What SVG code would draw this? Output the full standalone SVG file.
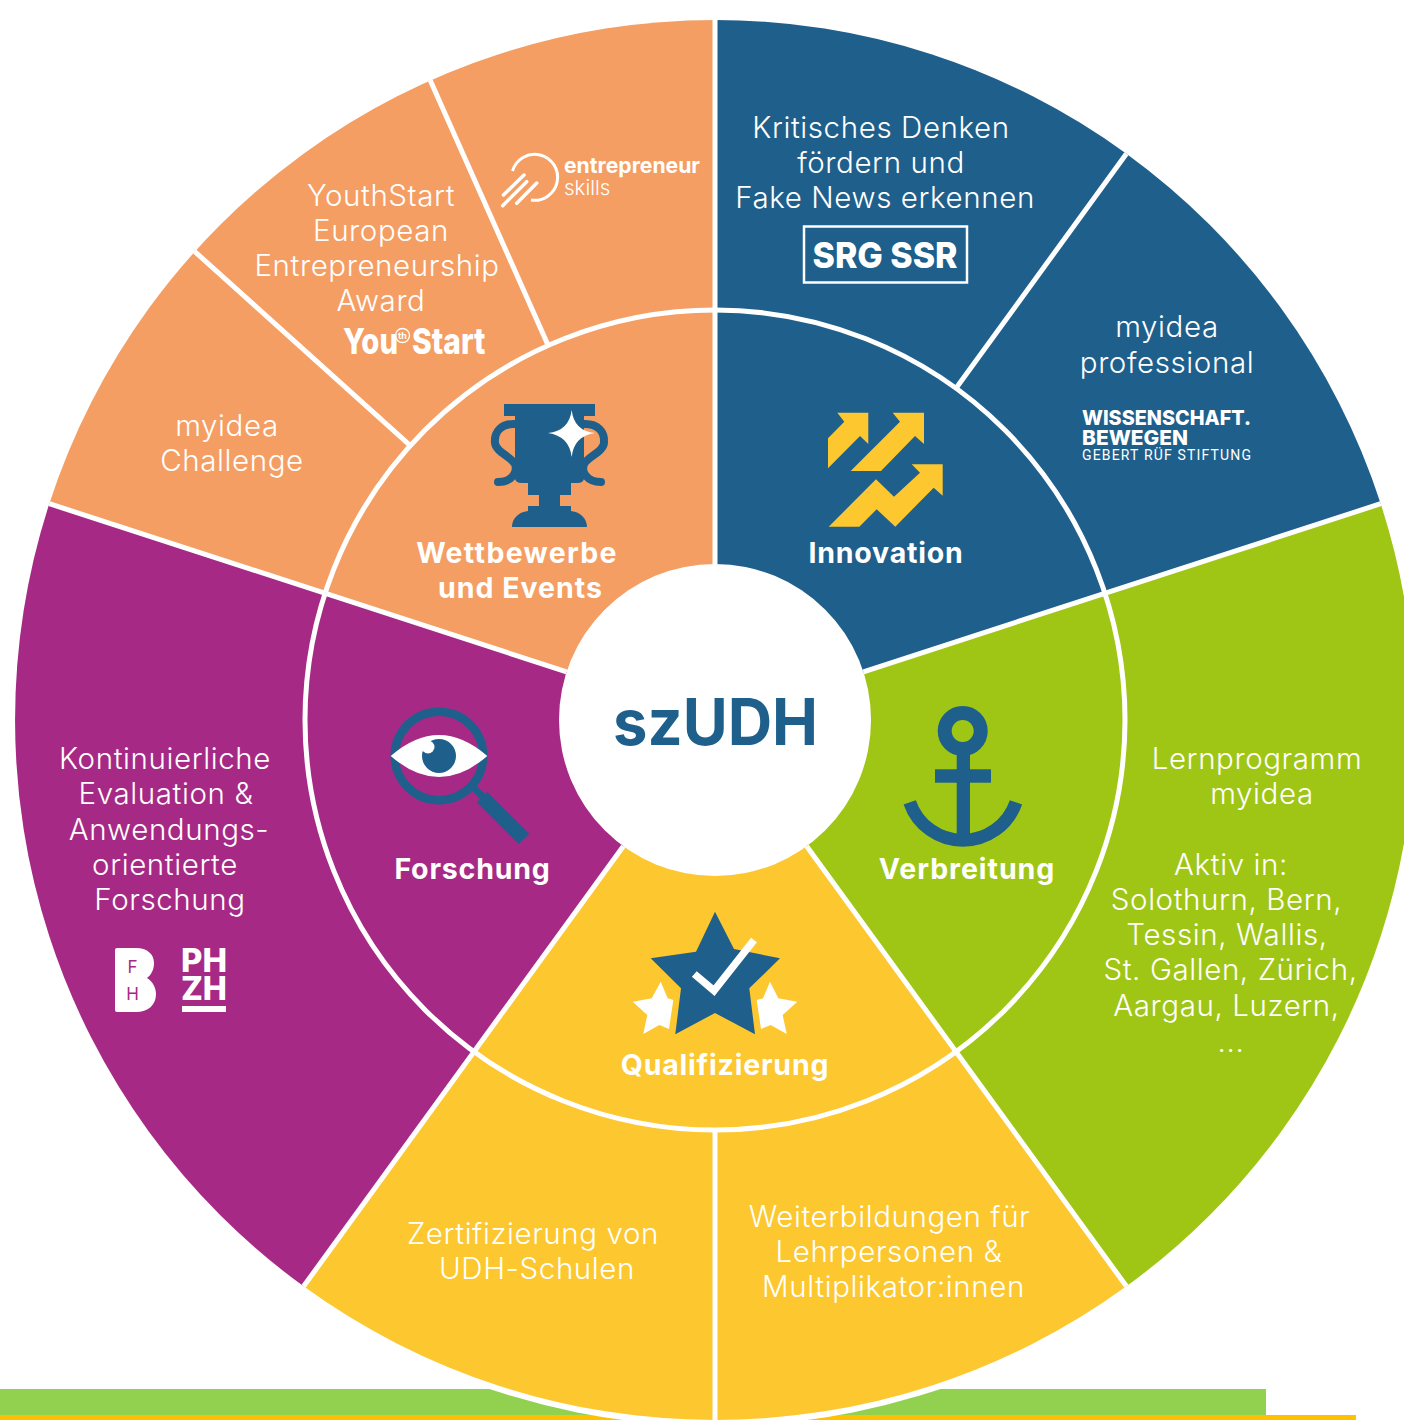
<svg xmlns="http://www.w3.org/2000/svg" width="1404" height="1420" viewBox="0 0 1404 1420">
<style>
text{font-family:Inter,"Noto Sans","Liberation Sans",sans-serif;fill:#fff;text-anchor:middle}
.t{font-size:29.5px;font-weight:300;letter-spacing:.6px}
.b{font-size:28.5px;font-weight:700;letter-spacing:.8px}
.l{font-weight:800;text-anchor:start}
.sep{stroke:#fff;stroke-width:5;fill:none}
.ic{fill:#1f5f8b}
.is{fill:none;stroke:#1f5f8b}
</style>
<rect width="1404" height="1420" fill="#fff"/>
<rect id="bar-green" x="0" y="1389" width="1266" height="26" fill="#92d14f"/>
<rect id="bar-orange" x="0" y="1415" width="1356" height="5" fill="#ffc000"/>
<circle id="rim" cx="715" cy="720" r="706" fill="#fff"/>

<g id="sector-innovation">
<path d="M715 720V20A700 700 0 0 1 1380.7 503.7Z" fill="#1f5f8b"/>
<text class="t"><tspan x="881" y="138">Kritisches Denken</tspan><tspan x="881" y="173">fördern und</tspan><tspan x="885" y="208">Fake News erkennen</tspan></text>
<rect x="804" y="226.500" width="163" height="56" fill="none" stroke="#fff" stroke-width="2.500"/>
<text x="885" y="268" style="font-size:36px;font-weight:800" textLength="145" lengthAdjust="spacingAndGlyphs">SRG SSR</text>
<text class="t"><tspan x="1167" y="337">myidea</tspan><tspan x="1167" y="372.500">professional</tspan></text>
<text class="l" x="1082" y="425" style="font-size:20.500px" textLength="169" lengthAdjust="spacingAndGlyphs">WISSENSCHAFT.</text>
<text class="l" x="1082" y="445" style="font-size:20.500px" textLength="106" lengthAdjust="spacingAndGlyphs">BEWEGEN</text>
<text x="1082" y="460" style="font-family:Roboto,Inter,sans-serif;font-size:14px;font-weight:400;text-anchor:start" textLength="169">GEBERT RÜF STIFTUNG</text>
<g id="icon-innovation" fill="#fdc72f">
<polygon points="837.300,412.700 868.300,412.700 868.300,444 860,436 828,468.300 828,438.300 844.300,421.700"/>
<polygon points="892.700,412.700 924,412.700 924,444 915,436 881,471 850.700,471 900,421.700"/>
<polygon points="911.700,464.300 942.700,464.300 942.700,495.700 933.700,487.700 895.300,526.700 876.700,509.300 859.300,526.700 828.700,526.700 876,479.300 894,496.700 920,472.700"/>
</g>
<text class="b" x="886" y="563">Innovation</text>
</g>

<g id="sector-verbreitung">
<path d="M715 720L1380.7 503.700A700 700 0 0 1 1126.400 1286.300Z" fill="#9fc615"/>
<text class="t"><tspan x="1257" y="769">Lernprogramm</tspan><tspan x="1262" y="804">myidea</tspan><tspan x="1231" y="875">Aktiv in:</tspan><tspan x="1226.500" y="910">Solothurn, Bern,</tspan><tspan x="1227" y="945">Tessin, Wallis,</tspan><tspan x="1230.500" y="980">St. Gallen, Zürich,</tspan><tspan x="1226.500" y="1015.500">Aargau, Luzern,</tspan><tspan x="1231" y="1052">...</tspan></text>
<g id="icon-anchor">
<circle class="is" cx="962.700" cy="731" r="18" stroke-width="14"/>
<rect class="ic" x="956.700" y="752" width="13.300" height="88"/>
<rect class="ic" x="935" y="769.300" width="56" height="13.400"/>
<path class="is" d="M909.700 802.300A56.200 56.200 0 0 0 1016 802.300" stroke-width="13"/>
</g>
<text class="b" x="967" y="879" style="letter-spacing:.95px">Verbreitung</text>
</g>

<g id="sector-qualifizierung">
<path d="M715 720L1126.400 1286.300A700 700 0 0 1 303.600 1286.300Z" fill="#fdc72f"/>
<text class="t"><tspan x="533" y="1244">Zertifizierung von</tspan><tspan x="537" y="1279">UDH-Schulen</tspan></text>
<text class="t"><tspan x="889.500" y="1227">Weiterbildungen für</tspan><tspan x="889" y="1262">Lehrpersonen &amp;</tspan><tspan x="893.500" y="1297">Multiplikator:innen</tspan></text>
<g id="icon-stars">
<polygon class="ic" points="715,911.700 734,949 780,958.300 749.300,988.300 755,1034.300 715,1013 675.300,1034.300 681,988.300 650.700,958.300 696,951.700"/>
<polyline points="694.300,974 714,990.700 754,940" fill="none" stroke="#fff" stroke-width="7.500"/>
<polygon fill="#fff" points="660.700,981.700 667.700,998.300 673.300,1000 669,1029 659.300,1025 643.300,1034 647.300,1015 632.700,1001.700 651.700,998.300"/>
<polygon fill="#fff" points="770,981.700 763,998.300 756.700,1000 761,1029 770.700,1025 786.700,1034 782.700,1015 797.300,1001.700 778.300,998.300"/>
</g>
<text class="b" x="725" y="1075">Qualifizierung</text>
</g>

<g id="sector-forschung">
<path d="M715 720L303.600 1286.300A700 700 0 0 1 49.300 503.700Z" fill="#a62a85"/>
<text class="t"><tspan x="165" y="769">Kontinuierliche</tspan><tspan x="166" y="804">Evaluation &amp;</tspan><tspan x="169" y="839.500">Anwendungs-</tspan><tspan x="165" y="874.500">orientierte</tspan><tspan x="170" y="910">Forschung</tspan></text>
<g id="logo-fh">
<path fill="#fff" d="M115 950q0-2 2-2H136C147 948 154 954 154 963 154 970 151 975 147 978 152 981 156 987 156 994 156 1005 148 1012 136 1012H117q-2 0-2-2Z"/>
<text x="132.500" y="973" style="font-size:17px;font-weight:400;fill:#a62a85">F</text>
<text x="132.500" y="1000" style="font-size:17px;font-weight:400;fill:#a62a85">H</text>
</g>
<g id="logo-phzh">
<text class="l" x="181" y="972" style="font-size:32px" textLength="46" lengthAdjust="spacingAndGlyphs">PH</text>
<text class="l" x="181" y="1000" style="font-size:32px" textLength="46" lengthAdjust="spacingAndGlyphs">ZH</text>
<rect x="182" y="1006" width="44" height="6" fill="#fff"/>
</g>
<g id="icon-eye">
<circle class="is" cx="439" cy="756" r="44.200" stroke-width="8.500"/>
<line class="is" x1="474" y1="788" x2="486" y2="800" stroke-width="7"/>
<line class="is" x1="482" y1="797" x2="524" y2="839" stroke-width="15"/>
<path fill="#fff" d="M390.700 756Q439 714 487.300 756Q439 798 390.700 756Z"/>
<circle class="ic" cx="439" cy="756" r="17"/>
<circle cx="428" cy="747" r="6.500" fill="#fff"/>
</g>
<text class="b" x="472.500" y="879">Forschung</text>
</g>

<g id="sector-wettbewerbe">
<path d="M715 720L49.300 503.700A700 700 0 0 1 715 20Z" fill="#f49e63"/>
<text class="t"><tspan x="227" y="436">myidea</tspan><tspan x="232" y="471">Challenge</tspan></text>
<text class="t"><tspan x="381" y="206">YouthStart</tspan><tspan x="381" y="241">European</tspan><tspan x="377" y="276">Entrepreneurship</tspan><tspan x="381" y="311">Award</tspan></text>
<g id="logo-youthstart">
<text class="l" x="343" y="354" style="font-size:36px" textLength="55" lengthAdjust="spacingAndGlyphs">You</text>
<circle cx="402.500" cy="335.500" r="7" fill="none" stroke="#fff" stroke-width="1.300"/>
<text x="402.500" y="339" style="font-size:9px;font-weight:700">th</text>
<text class="l" x="412" y="354" style="font-size:36px" textLength="73.500" lengthAdjust="spacingAndGlyphs">Start</text>
</g>
<g id="logo-entrepreneur">
<path d="M512.500 171A23 23 0 1 1 531 200" fill="none" stroke="#fff" stroke-width="3"/>
<path d="M503.500 195L524 175M502.700 205.700L526.700 181.700M516.700 203.300L536.700 183" fill="none" stroke="#fff" stroke-width="3.500" stroke-linecap="round"/>
<text class="l" x="564" y="173" style="font-size:21.500px;font-weight:700" textLength="136" lengthAdjust="spacingAndGlyphs">entrepreneur</text>
<text x="564" y="195" style="font-size:20.500px;font-weight:300;text-anchor:start">skills</text>
</g>
<g id="icon-trophy">
<rect class="ic" x="504" y="404" width="91" height="12"/>
<path class="ic" d="M515 416H584V478Q584 483 577 483H571V495H560V506H571V511C581 512 587 519 587 527H512C512 519 518 512 528 511V506H539V495H528V483H522Q515 483 515 478Z"/>
<path class="is" stroke-width="8" stroke-linecap="round" d="M516 424C501 423 494 432 495 443 496 452 510 456 515 464 518 472 512 482 498 482"/>
<path class="is" stroke-width="8" stroke-linecap="round" d="M583 424C598 423 605 432 604 443 603 452 589 456 584 464 581 472 587 482 601 482"/>
<path fill="#fff" d="M571.700 410Q574 431 595 433Q574 436 571.700 457Q569 436 548 433Q569 431 571.700 410Z"/>
</g>
<text class="b"><tspan x="517" y="563" style="letter-spacing:1.3px">Wettbewerbe</tspan><tspan x="520.500" y="598" style="letter-spacing:1px">und Events</tspan></text>
</g>

<g id="connectors">
<circle class="sep" cx="715" cy="720" r="410"/>
<path class="sep" d="M715 20V564M863.400 671.800L1380.700 503.700M806.700 846.200L1126.400 1286.300M623.300 846.200L303.600 1286.300M566.600 671.800L49.300 503.700M715 1130V1420M956 388.300L1126.400 153.700M410.300 445.700L194.800 251.600M548.200 345.500L430.300 80.500"/>
</g>

<g id="hub">
<circle cx="715" cy="720" r="156" fill="#fff"/>
<text x="715.500" y="745" style="font-size:64px;font-weight:700;fill:#1f5f8b" textLength="205" lengthAdjust="spacingAndGlyphs">szUDH</text>
</g>
</svg>
